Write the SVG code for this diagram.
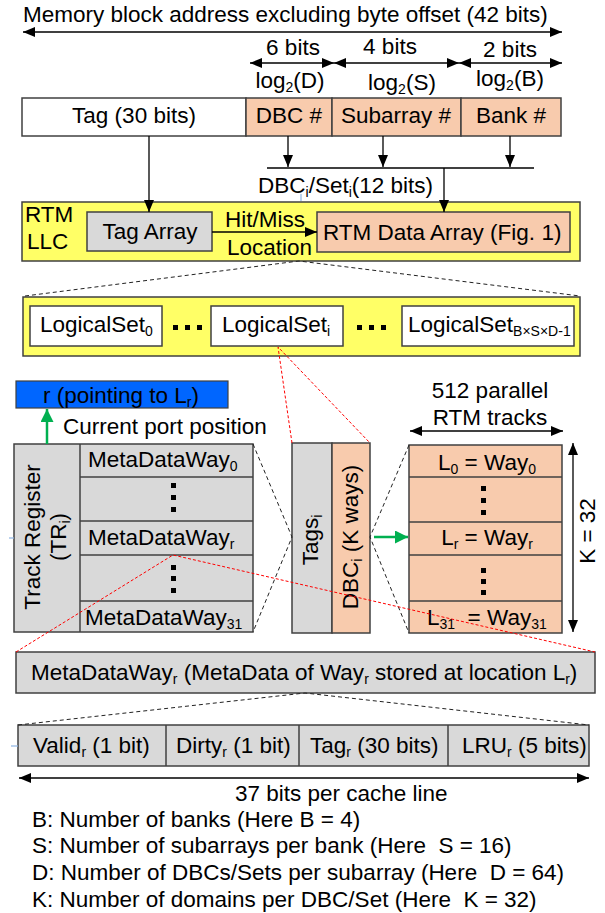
<svg xmlns="http://www.w3.org/2000/svg" width="605" height="913" viewBox="0 0 605 913">
  <style>
    text { font-family: "Liberation Sans", Arial, sans-serif; font-size: 22.5px; fill: #000; }
    .s { font-size: 14px; }
    .box { stroke: #404040; stroke-width: 1.5; }
    .w { fill: #ffffff; }
    .o { fill: #f8cbad; }
    .g { fill: #d9d9d9; }
    .y { fill: #ffff66; }
    .ln { stroke: #000; stroke-width: 1.3; fill: none; }
    .dk { stroke: #222; stroke-width: 1; stroke-dasharray: 4 3; fill: none; }
    .rd { stroke: #ff0000; stroke-width: 1; stroke-dasharray: 3 2; fill: none; }
    .gr { stroke: #00b050; stroke-width: 2.5; fill: none; }
    .tick { stroke: #8eb4e3; stroke-width: 1.2; }
    .dot { fill: #000; }
    .mid { text-anchor: middle; }
  </style>
  <defs>
    <marker id="ah" viewBox="0 0 12 10" refX="12" refY="5" markerWidth="12" markerHeight="10" markerUnits="userSpaceOnUse" orient="auto-start-reverse">
      <path d="M0,0 L12,5 L0,10 z" fill="#000"/>
    </marker>
    <marker id="ahg" viewBox="0 0 12 12" refX="12" refY="6" markerWidth="13" markerHeight="13" markerUnits="userSpaceOnUse" orient="auto">
      <path d="M0,0 L12,6 L0,12 z" fill="#00b050"/>
    </marker>
  </defs>

  <!-- address field widths -->
  <g id="address-width">
    <text x="23" y="22">Memory block address excluding byte offset (42 bits)</text>
    <text class="mid" x="293" y="55">6 bits</text>
    <text class="mid" x="390" y="54">4 bits</text>
    <text class="mid" x="510" y="57">2 bits</text>
    <text class="mid" x="290" y="88">log<tspan class="s" dy="4">2</tspan><tspan dy="-4">(D)</tspan></text>
    <text class="mid" x="402" y="90">log<tspan class="s" dy="4">2</tspan><tspan dy="-4">(S)</tspan></text>
    <text class="mid" x="510" y="86">log<tspan class="s" dy="4">2</tspan><tspan dy="-4">(B)</tspan></text>
  </g>

  <!-- address fields -->
  <g id="address">
    <rect class="box w" x="22" y="98" width="224" height="38"/>
    <rect class="box o" x="246" y="98" width="86" height="38"/>
    <rect class="box o" x="332" y="98" width="129" height="38"/>
    <rect class="box o" x="461" y="98" width="100" height="38"/>
    <text class="mid" x="134" y="123">Tag (30 bits)</text>
    <text class="mid" x="289" y="123">DBC #</text>
    <text class="mid" x="396" y="123">Subarray #</text>
    <text class="mid" x="511" y="123">Bank #</text>
  </g>

  <g id="set-index-label">
    <text x="258" y="193">DBC<tspan class="s" dy="4">i</tspan><tspan dy="-4">/Set</tspan><tspan class="s" dy="4">i</tspan><tspan dy="-4">(12 bits)</tspan></text>
  </g>

  <!-- RTM LLC -->
  <g id="rtm-llc">
    <rect class="box y" x="22" y="202" width="558" height="59"/>
    <text x="25" y="222">RTM</text>
    <text x="27" y="249">LLC</text>
  </g>
  <g id="tag-array">
    <rect class="box g" x="87" y="212" width="125" height="39"/>
    <text class="mid" x="150" y="239">Tag Array</text>
  </g>
  <g id="data-array">
    <rect class="box o" x="317" y="212" width="253" height="40"/>
    <text x="323" y="240">RTM Data Array (Fig. 1)</text>
  </g>
  <g id="hit-label">
    <text x="225" y="227">Hit/Miss</text>
    <text x="227" y="255">Location</text>
  </g>

  <!-- logical sets -->
  <g id="logical-sets">
    <rect class="box y" x="23" y="297" width="557" height="59"/>
  </g>
  <g id="set0">
    <rect class="box w" x="30" y="306" width="132" height="40"/>
    <text x="40" y="332">LogicalSet<tspan class="s" dy="4">0</tspan></text>
  </g>
  <g id="seti">
    <rect class="box w" x="211" y="306" width="132" height="40"/>
    <text x="222" y="332">LogicalSet<tspan class="s" dy="4">i</tspan></text>
  </g>
  <g id="setlast">
    <rect class="box w" x="402" y="306" width="172" height="40"/>
    <text x="408" y="332">LogicalSet<tspan class="s" dy="4">B×S×D-1</tspan></text>
  </g>
  <g id="set-dots">
    <rect class="dot" x="173" y="325" width="5" height="5"/>
    <rect class="dot" x="185" y="325" width="5" height="5"/>
    <rect class="dot" x="197" y="325" width="5" height="5"/>
    <rect class="dot" x="357" y="325" width="5" height="5"/>
    <rect class="dot" x="369" y="325" width="5" height="5"/>
    <rect class="dot" x="381" y="325" width="5" height="5"/>
  </g>

  <!-- port position -->
  <g id="port">
    <rect x="16" y="381" width="212" height="27" fill="#0066ff" stroke="#404040" stroke-width="1.2"/>
    <text x="43" y="403">r (pointing to L<tspan class="s" dy="4">r</tspan><tspan dy="-4">)</tspan></text>
  </g>
  <g id="port-label">
    <text x="63" y="434">Current port position</text>
  </g>

  <!-- track register -->
  <g id="track-register">
    <rect class="box g" x="14" y="444" width="239" height="188"/>
    <line class="box" x1="80" y1="444" x2="80" y2="632"/>
    <line class="box" x1="80" y1="477" x2="253" y2="477"/>
    <line class="box" x1="80" y1="521" x2="253" y2="521"/>
    <line class="box" x1="80" y1="555" x2="253" y2="555"/>
    <line class="box" x1="80" y1="601" x2="253" y2="601"/>
    <text class="mid" transform="translate(40,537) rotate(-90)">Track Register</text>
    <text class="mid" transform="translate(66,537) rotate(-90)">(TR<tspan class="s" dy="4">i</tspan><tspan dy="-4">)</tspan></text>
    <text x="88" y="467">MetaDataWay<tspan class="s" dy="4">0</tspan></text>
    <text x="88" y="545">MetaDataWay<tspan class="s" dy="4">r</tspan></text>
    <text x="85" y="625">MetaDataWay<tspan class="s" dy="4">31</tspan></text>
    <rect class="dot" x="171" y="483" width="5" height="5"/>
    <rect class="dot" x="171" y="495" width="5" height="5"/>
    <rect class="dot" x="171" y="507" width="5" height="5"/>
    <rect class="dot" x="171" y="565" width="5" height="5"/>
    <rect class="dot" x="171" y="576" width="5" height="5"/>
    <rect class="dot" x="171" y="588" width="5" height="5"/>
  </g>

  <!-- tags and DBC of set i -->
  <g id="dbc">
    <rect class="box g" x="292" y="443" width="40" height="190"/>
    <rect class="box o" x="332" y="443" width="38" height="190"/>
    <text class="mid" transform="translate(318,540) rotate(-90)">Tags<tspan class="s" dy="4">i</tspan></text>
    <text class="mid" transform="translate(358,537) rotate(-90)">DBC<tspan class="s" dy="4">i</tspan><tspan dy="-4"> (K ways)</tspan></text>
  </g>

  <!-- ways of the DBC -->
  <g id="ways">
    <rect class="box o" x="409" y="445" width="153" height="188"/>
    <line class="box" x1="409" y1="477" x2="562" y2="477"/>
    <line class="box" x1="409" y1="522" x2="562" y2="522"/>
    <line class="box" x1="409" y1="555" x2="562" y2="555"/>
    <line class="box" x1="409" y1="601" x2="562" y2="601"/>
    <text class="mid" x="487" y="470">L<tspan class="s" dy="4">0</tspan><tspan dy="-4"> = Way</tspan><tspan class="s" dy="4">0</tspan></text>
    <text class="mid" x="487" y="545">L<tspan class="s" dy="4">r</tspan><tspan dy="-4"> = Way</tspan><tspan class="s" dy="4">r</tspan></text>
    <text x="427" y="625" xml:space="preserve">L<tspan class="s" dy="4">31</tspan><tspan dy="-4">  = Way</tspan><tspan class="s" dy="4">31</tspan></text>
    <rect class="dot" x="481" y="486" width="5" height="5"/>
    <rect class="dot" x="481" y="498" width="5" height="5"/>
    <rect class="dot" x="481" y="510" width="5" height="5"/>
    <rect class="dot" x="481" y="568" width="5" height="5"/>
    <rect class="dot" x="481" y="579" width="5" height="5"/>
    <rect class="dot" x="481" y="590" width="5" height="5"/>
  </g>
  <g id="ways-labels">
    <text class="mid" x="490" y="398">512 parallel</text>
    <text class="mid" x="490" y="425">RTM tracks</text>
    <text class="mid" transform="translate(595,531) rotate(-90)">K = 32</text>
  </g>

  <!-- metadata of way r -->
  <g id="metadata">
    <rect class="box g" x="16" y="652" width="579" height="41"/>
    <text x="31" y="680">MetaDataWay<tspan class="s" dy="4">r</tspan><tspan dy="-4"> (MetaData of Way</tspan><tspan class="s" dy="4">r</tspan><tspan dy="-4"> stored at location L</tspan><tspan class="s" dy="4">r</tspan><tspan dy="-4">)</tspan></text>
  </g>
  <g id="fields">
    <rect class="box g" x="18" y="725" width="571" height="41"/>
    <line class="box" x1="166" y1="725" x2="166" y2="766"/>
    <line class="box" x1="299" y1="725" x2="299" y2="766"/>
    <line class="box" x1="448" y1="725" x2="448" y2="766"/>
    <text x="33" y="753">Valid<tspan class="s" dy="4">r</tspan><tspan dy="-4"> (1 bit)</tspan></text>
    <text x="176" y="753">Dirty<tspan class="s" dy="4">r</tspan><tspan dy="-4"> (1 bit)</tspan></text>
    <text x="310" y="753">Tag<tspan class="s" dy="4">r</tspan><tspan dy="-4"> (30 bits)</tspan></text>
    <text x="462" y="753">LRU<tspan class="s" dy="4">r</tspan><tspan dy="-4"> (5 bits)</tspan></text>
  </g>
  <g id="line-size">
    <text x="235" y="801">37 bits per cache line</text>
  </g>

  <!-- legend -->
  <g id="legend">
    <text x="32" y="827">B: Number of banks (Here B = 4)</text>
    <text x="32" y="853" xml:space="preserve">S: Number of subarrays per bank (Here  S = 16)</text>
    <text x="32" y="880" xml:space="preserve">D: Number of DBCs/Sets per subarray (Here  D = 64)</text>
    <text x="32" y="907" xml:space="preserve">K: Number of domains per DBC/Set (Here  K = 32)</text>
  </g>

  <!-- connectors -->
  <g id="connectors">
    <line class="ln" x1="23" y1="32" x2="562" y2="32" marker-start="url(#ah)" marker-end="url(#ah)"/>
    <line class="ln" x1="250" y1="63" x2="334" y2="63" marker-start="url(#ah)" marker-end="url(#ah)"/>
    <line class="ln" x1="334" y1="63" x2="459" y2="63" marker-start="url(#ah)" marker-end="url(#ah)"/>
    <line class="ln" x1="459" y1="63" x2="562" y2="63" marker-start="url(#ah)" marker-end="url(#ah)"/>

    <line class="ln" x1="149" y1="136" x2="149" y2="212" marker-end="url(#ah)"/>
    <line class="ln" x1="288" y1="136" x2="288" y2="167" marker-end="url(#ah)"/>
    <line class="ln" x1="383" y1="136" x2="383" y2="167" marker-end="url(#ah)"/>
    <line class="ln" x1="510" y1="136" x2="510" y2="167" marker-end="url(#ah)"/>
    <line class="ln" x1="267" y1="168" x2="534" y2="168"/>
    <line class="ln" x1="444" y1="168" x2="444" y2="212" marker-end="url(#ah)"/>
    <line class="ln" x1="212" y1="232" x2="317" y2="232" marker-end="url(#ah)"/>

    <polyline class="dk" points="25,296 299,261 580,296"/>
    <polyline class="rd" points="292,443 278,347 370,443"/>

    <line class="gr" x1="47" y1="444" x2="47" y2="409" marker-end="url(#ahg)"/>
    <line class="gr" x1="374" y1="537" x2="408" y2="537" marker-end="url(#ahg)"/>

    <polyline class="dk" points="253,444 292,537 253,632"/>
    <polyline class="dk" points="409,445 370,537 409,633"/>

    <line class="ln" x1="410" y1="431" x2="563" y2="431" marker-start="url(#ah)" marker-end="url(#ah)"/>
    <line class="ln" x1="573" y1="443" x2="573" y2="632" marker-start="url(#ah)" marker-end="url(#ah)"/>

    <polyline class="rd" points="16,652 173,555 595,652"/>
    <polyline class="dk" points="18,725 305,693 589,725"/>
    <line class="ln" x1="19" y1="778" x2="589" y2="778" marker-start="url(#ah)" marker-end="url(#ah)"/>

    <line class="tick" x1="301" y1="194" x2="301" y2="201"/>
    <line class="tick" x1="9" y1="538" x2="14" y2="538"/>
    <line class="tick" x1="11" y1="746" x2="18" y2="746"/>
  </g>
</svg>
